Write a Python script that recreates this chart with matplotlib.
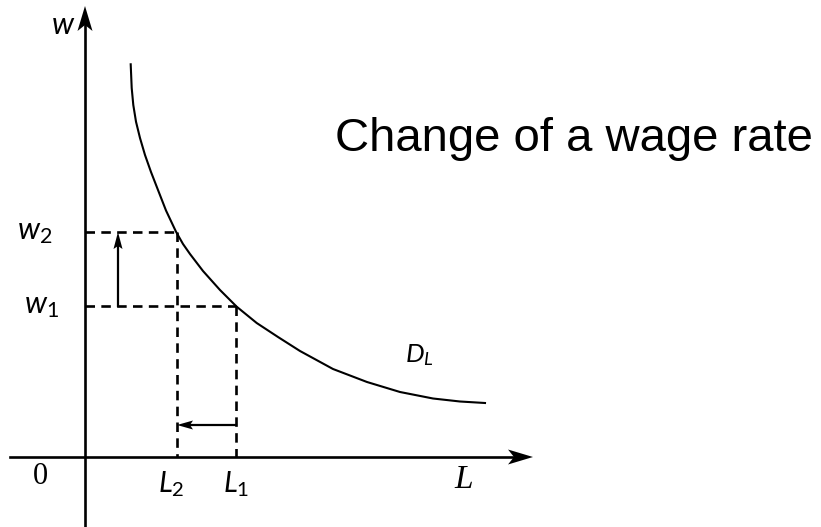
import matplotlib.pyplot as plt
from matplotlib.patches import Polygon

plt.rcParams['mathtext.fontset'] = 'custom'
plt.rcParams['mathtext.it'] = 'Lato:italic'
plt.rcParams['mathtext.rm'] = 'Lato'

# labour demand curve D_L (L, w)
curve_L = [45.7, 46.7, 48.3, 51, 55, 60, 66, 73, 81, 91, 98, 105, 118, 135,
           151.7, 171.7, 193, 215, 248, 282, 315, 348, 375, 400]
curve_w = [392.7, 369, 352, 335.3, 319, 302, 285, 267, 246.5, 225.3, 213, 203, 186, 167,
           150.3, 134, 120, 106, 88, 75, 65, 58.5, 55.5, 54]

# the two wage levels and the matching labour quantities
w1, w2 = 151, 225
L1, L2 = 151, 92

# axis extents
L_max, w_max = 448, 451
L_min, w_min = -75, -70

fig = plt.figure(figsize=(8.21, 5.27), dpi=100)
ax = fig.add_axes([0, 0, 1, 1])
ax.set_xlim(-85, 736)
ax.set_ylim(-70, 457)
ax.axis('off')


def head(x, y, dx, dy, length, half, notch):
    # notched arrow head with its tip at (x, y), pointing along (dx, dy)
    px, py = -dy, dx
    pts = [(x, y),
           (x - dx * length + px * half, y - dy * length + py * half),
           (x - dx * (length - notch), y - dy * (length - notch)),
           (x - dx * length - px * half, y - dy * length - py * half)]
    ax.add_patch(Polygon(pts, closed=True, color='k', lw=0))


ax.plot([L_min, L_max - 15], [0, 0], color='k', lw=1.9)
ax.plot([0, 0], [w_min, w_max - 15], color='k', lw=1.9)
head(L_max, 0, 1, 0, 25, 7.5, 6)
head(0, w_max, 0, 1, 25, 7.5, 6)

ax.plot(curve_L, curve_w, color='k', lw=1.5, solid_joinstyle='round')

dash = dict(color='k', lw=1.9, linestyle=(0, (3.6, 2.4)))
ax.plot([0, L2], [w2, w2], **dash)
ax.plot([0, L1], [w1, w1], **dash)
ax.plot([L2, L2], [w2, 0], **dash)
ax.plot([L1, L1], [w1, 0], **dash)

# wage rises, labour demanded falls
ax.plot([33, 33], [w1, w2 - 10], color='k', lw=1.6)
head(33, w2, 0, 1, 17, 4.5, 3)
ax.plot([L1, L2 + 10], [32, 32], color='k', lw=1.6)
head(L2, 32, -1, 0, 16, 4.5, 3)

ax.text(-22, 432, '$w$', fontsize=22, ha='center', va='center')
ax.text(-33, w2, '$w_2$', fontsize=22, ha='right', va='center')
ax.text(-26, w1, '$w_1$', fontsize=22, ha='right', va='center')
ax.text(L2 - 6, -27, '$L_2$', fontsize=21, ha='center', va='center')
ax.text(L1, -27, '$L_1$', fontsize=21, ha='center', va='center')
ax.text(334, 102, '$D_L$', fontsize=19, ha='center', va='center')
ax.text(-45, -20, '0', fontsize=22, family='Liberation Serif', ha='center', va='center')
ax.text(379, -23, 'L', fontsize=24, family='Liberation Serif', style='italic',
        ha='center', va='center')

ax.text(250, 318, 'Change of a wage rate', fontsize=34, family='Liberation Sans',
        ha='left', va='center')

plt.savefig('out.png', dpi=100)
